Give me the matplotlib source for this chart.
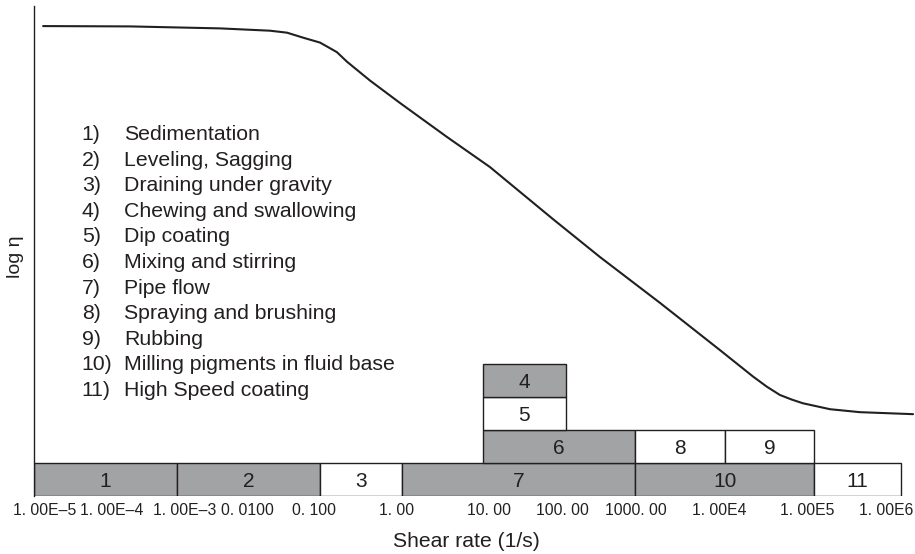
import numpy as np
import matplotlib
matplotlib.use("Agg")
import matplotlib.pyplot as plt
import matplotlib.transforms as mtransforms

# ---------------- data ----------------
# viscosity curve (shear rate in 1/s, log eta in arbitrary units)
shear_rate = [1.34e-5, 2.20e-4, 3.99e-3, 0.0200, 0.0346, 0.0578, 0.100, 0.122,
              0.161, 0.214, 0.409, 0.953, 3.62, 12.2, 70.3, 313, 1.90e3, 8.80e3,
              2.06e4, 2.95e4, 4.13e4, 5.62e4, 7.46e4, 1.52e5, 3.38e5, 1.39e6]
log_eta = [14.24, 14.23, 14.17, 14.10, 14.04, 13.89, 13.74, 13.62, 13.45, 13.16,
           12.59, 11.91, 10.88, 9.97, 8.39, 7.24, 5.85, 4.42, 3.62, 3.31, 3.06,
           2.92, 2.81, 2.63, 2.54, 2.48]

# process ranges: label, start, end (1/s), stack level, shaded
box_labels = ["1", "2", "3", "7", "10", "11", "6", "8", "9", "5", "4"]
box_start = [1e-5, 1e-3, 1e-1, 1, 1e3, 1e5, 10, 1e3, 1e4, 10, 10]
box_end = [1e-3, 1e-1, 1, 1e3, 1e5, 1e6, 1e3, 1e4, 1e5, 100, 100]
box_level = [0, 0, 0, 0, 0, 0, 1, 1, 1, 2, 3]
box_shaded = [True, True, False, True, True, False, True, False, False, False, True]

processes = ["Sedimentation", "Leveling, Sagging", "Draining under gravity",
             "Chewing and swallowing", "Dip coating", "Mixing and stirring",
             "Pipe flow", "Spraying and brushing", "Rubbing",
             "Milling pigments in fluid base", "High Speed coating"]

tick_values = [1e-5, 1e-4, 1e-3, 1e-2, 1e-1, 1, 10, 100, 1000, 1e4, 1e5, 1e6]
tick_labels = ["1. 00E\u20135", "1. 00E\u20134", "1. 00E\u20133", "0. 0100", "0. 100",
               "1. 00", "10. 00", "100. 00", "1000. 00", "1. 00E4", "1. 00E5", "1. 00E6"]

# ---------------- style ----------------
plt.rcParams['font.family'] = ['Liberation Sans', 'DejaVu Sans']
INK = '#231f20'
GRAY = '#a2a3a5'

# piecewise-log scale (the original drawing has uneven decade widths)
dec_log = np.array([-5.2, -5, -4, -3, -2, -1, 0, 1, 2, 3, 4, 5, 6, 6.3])
dec_pos = np.array([19.7, 34, 105.5, 177, 248.5, 320, 401.7, 482.7, 565.7, 635,
                    725, 814.3, 900.7, 926.6])


def fwd(x):
    x = np.asarray(x, dtype=float)
    with np.errstate(divide='ignore', invalid='ignore'):
        lx = np.log10(np.where(x > 0, x, 1e-300))
    return np.interp(lx, dec_log, dec_pos)


def inv(p):
    return 10 ** np.interp(np.asarray(p, dtype=float), dec_pos, dec_log)


W, H = 915, 554
fig = plt.figure(figsize=(W / 100, H / 100), dpi=100)
ax_left, ax_bottom_px, ax_top_px = 34, 496, 6
ax = fig.add_axes([ax_left / W, (H - ax_bottom_px) / H, (W - ax_left) / W,
                   (ax_bottom_px - ax_top_px) / H])
ax.set_xscale('function', functions=(fwd, inv))
ax.set_xlim(1e-5, inv(915))
ax.set_ylim(0, (ax_bottom_px - ax_top_px) / 33.0)

# curve
ax.plot(shear_rate, log_eta, color=INK, lw=1.5, solid_joinstyle='round',
        solid_capstyle='round', zorder=3)

# boxes
for lab, s, e, lv, sh in zip(box_labels, box_start, box_end, box_level, box_shaded):
    ax.bar(s, 1, width=e - s, bottom=lv, align='edge',
           color=GRAY if sh else 'white', edgecolor=INK, linewidth=1.0, zorder=2)
    xc = inv((fwd(s) + fwd(e)) / 2)
    ax.text(xc, lv + 0.5, lab, ha='center', va='center_baseline', fontsize=15,
            color=INK, zorder=4)

# list of processes
base_y = 140
step = 25.6
for i, p in enumerate(processes):
    yfig = 1 - (base_y + i * step) / H
    fig.text(81.7 / W, yfig, f"{i + 1})", ha='left', va='baseline',
             fontsize=15.3, color=INK)
    fig.text(124 / W, yfig, p, ha='left', va='baseline', fontsize=15.3, color=INK)

# axes styling
for s in ['top', 'right', 'bottom']:
    ax.spines[s].set_visible(False)
ax.spines['left'].set_color(INK)
ax.spines['left'].set_linewidth(1.0)
ax.set_yticks([])
ax.set_xticks(tick_values)
ax.set_xticklabels(tick_labels)
ax.xaxis.set_minor_locator(matplotlib.ticker.NullLocator())
ax.tick_params(axis='x', length=0, pad=5, labelsize=11.3, labelcolor=INK)

label_shift_px = [10.5, 6.5, 8, -1.5, -5.5, -5, 6, -3.7, 1, -6, -7, -14.7]
for lbl, dx in zip(ax.get_xticklabels(), label_shift_px):
    lbl.set_transform(lbl.get_transform() +
                      mtransforms.ScaledTranslation(dx / 100, 0, fig.dpi_scale_trans))

fig.text(466.5 / W, 1 - 541.7 / H, "Shear rate (1/s)", ha='center', va='center',
         fontsize=15.2, color=INK)
fig.text(15 / W, 1 - 257 / H, "log \u03b7", ha='center', va='center', rotation=90,
         fontsize=14, color=INK)

fig.savefig("out.png", dpi=100)
